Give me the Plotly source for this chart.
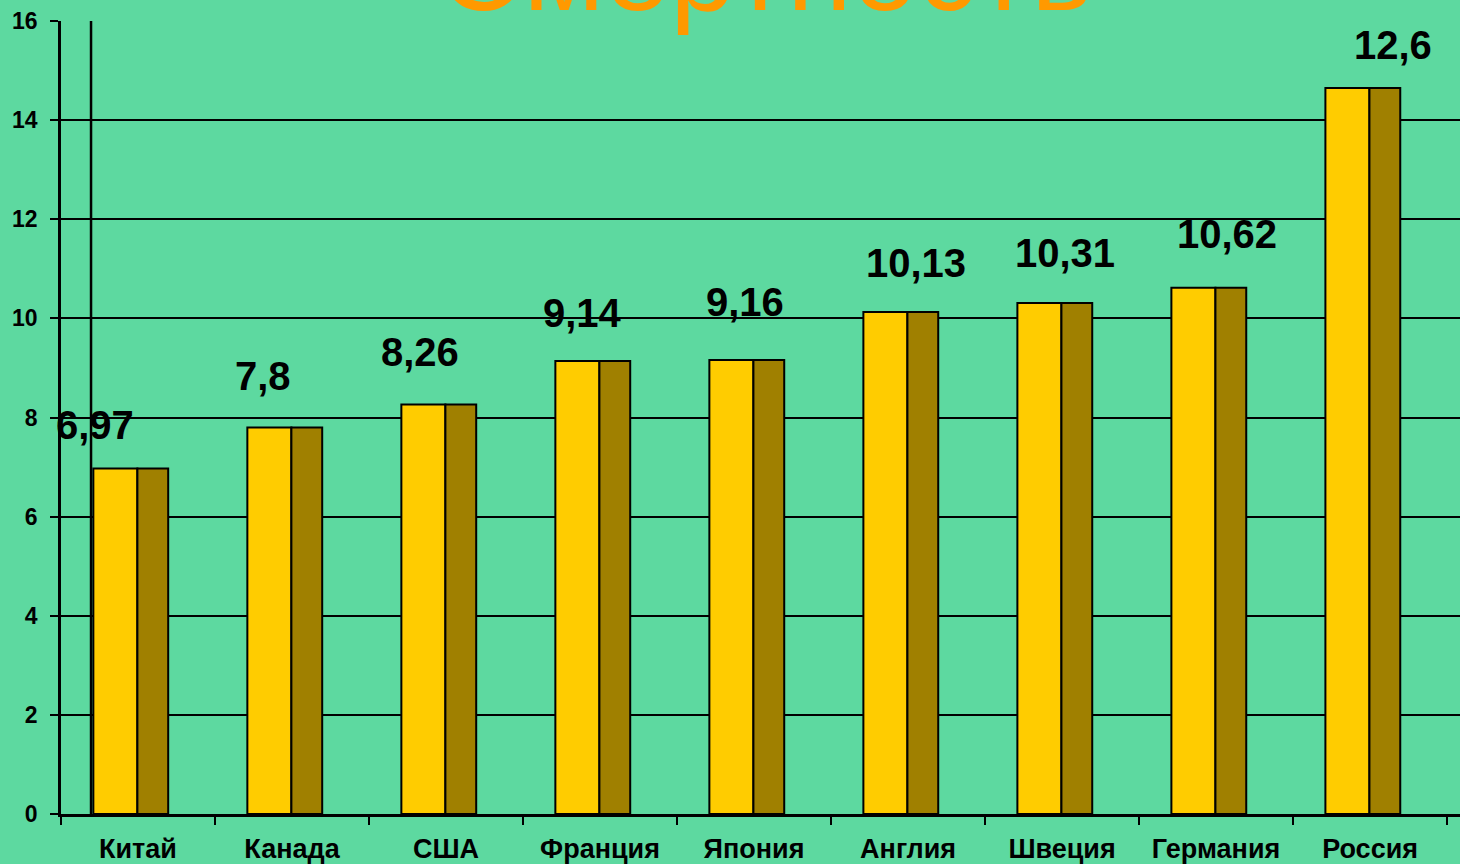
import plotly.graph_objects as go

categories = ["Китай", "Канада", "США", "Франция", "Япония", "Англия", "Швеция", "Германия", "Россия"]
bar_heights = [6.97, 7.8, 8.26, 9.14, 9.16, 10.13, 10.31, 10.62, 14.65]
value_labels = ["6,97", "7,8", "8,26", "9,14", "9,16", "10,13", "10,31", "10,62", "12,6"]
y_ticks = [0, 2, 4, 6, 8, 10, 12, 14, 16]
title_text = "Смертность"

# label placement tweaks (pixels)
label_xshift = [-43, -29, -26, -18, -9, 8, 3, 11, 23]
label_yshift = [44, 51, 53, 48, 58, 49, 50, 54, 43]

BG = "#5DD9A0"
FRONT = "#FFCC00"
SIDE = "#A08000"

xs = list(range(len(categories)))

fig = go.Figure()
fig.add_trace(go.Bar(
    x=xs, y=bar_heights, width=0.286, offset=-0.29,
    marker=dict(color=FRONT, line=dict(color="black", width=2)),
    hoverinfo="skip", showlegend=False))
fig.add_trace(go.Bar(
    x=xs, y=bar_heights, width=0.2, offset=-0.004,
    marker=dict(color=SIDE, line=dict(color="black", width=2)),
    hoverinfo="skip", showlegend=False))

for i, (v, t) in enumerate(zip(bar_heights, value_labels)):
    fig.add_annotation(x=i, y=v, text="<b>%s</b>" % t, showarrow=False,
                       xanchor="center", yanchor="middle",
                       xshift=label_xshift[i], yshift=label_yshift[i],
                       font=dict(family="Liberation Sans", size=40, color="black"))

fig.add_annotation(xref="paper", yref="paper", x=0.503, y=1, text=title_text,
                   showarrow=False, xanchor="center", yanchor="bottom", yshift=-16,
                   font=dict(family="Liberation Sans", size=118, color="#FF9900"))

# back wall edge of the 3D frame
fig.add_shape(type="line", xref="x", yref="y", x0=-0.305, x1=-0.305, y0=0, y1=16,
              line=dict(color="black", width=2.5), layer="below")

n = len(categories)
fig.update_layout(
    width=1460, height=864,
    paper_bgcolor=BG, plot_bgcolor=BG,
    margin=dict(l=61, r=0, t=21, b=50),
    barmode="overlay",
    font=dict(family="Liberation Sans", color="black"),
    xaxis=dict(range=[-0.5, n - 0.5 + 0.084], tickvals=xs, ticktext=["<b>%s</b>" % c for c in categories],
               ticks="", showgrid=False, zeroline=False,
               showline=True, linecolor="black", linewidth=2.5,
               tickfont=dict(size=27, family="Liberation Sans"),
               ticklabelstandoff=9,
               minor=dict(tickvals=[k - 0.5 for k in range(n + 1)], ticks="outside",
                          ticklen=8, tickwidth=2, tickcolor="black", showgrid=False)),
    yaxis=dict(range=[0, 16], tickvals=y_ticks, ticktext=["<b>%d</b>" % v for v in y_ticks],
               ticks="outside", ticklen=8, tickwidth=1.5, tickcolor="black",
               showgrid=True, gridcolor="black", gridwidth=2, zeroline=False,
               showline=True, linecolor="black", linewidth=2.5,
               tickfont=dict(size=23, family="Liberation Sans"),
               ticklabelstandoff=8),
)

fig.write_html("out.html", config={"displayModeBar": False},
               post_script="document.body.style.margin='0';document.body.style.overflow='hidden';document.body.style.background='%s';" % BG)
